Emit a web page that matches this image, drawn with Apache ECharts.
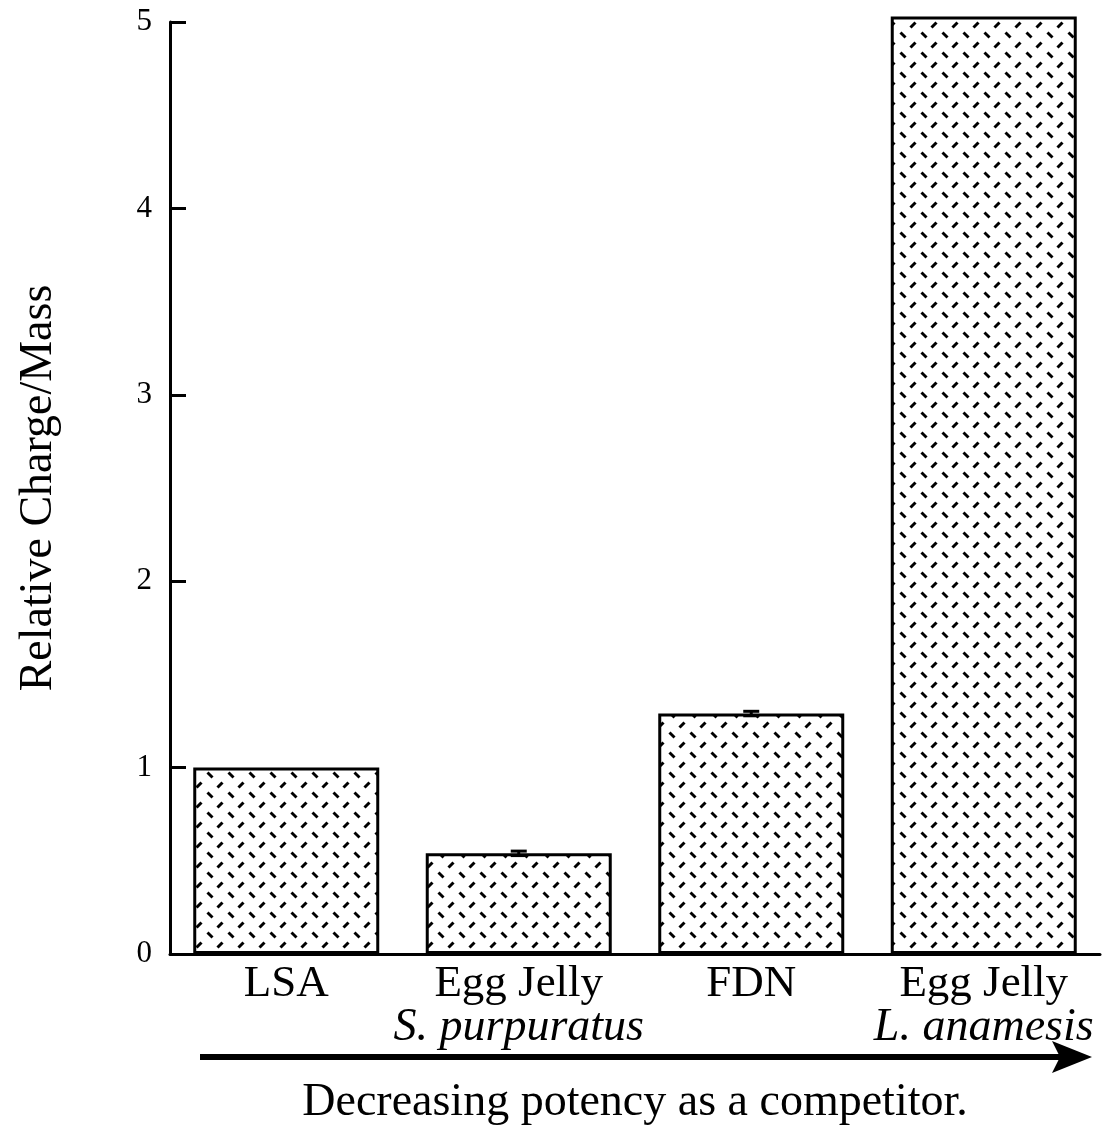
<!DOCTYPE html>
<html>
<head>
<meta charset="utf-8">
<script src="https://cdn.jsdelivr.net/npm/echarts@6/dist/echarts.min.js"></script>
<style>
  html, body { margin: 0; padding: 0; background: #fff; }
  #chart { width: 1104px; height: 1125px; }
</style>
</head>
<body>
<div id="chart"></div>
<script>
// Bar categories: substance name and (optional) species on a second line
const categories = ['LSA', 'Egg Jelly', 'FDN', 'Egg Jelly'];
const species = ['', 'S. purpuratus', '', 'L. anamesis'];
// Relative charge/mass of each substance
const values = [1.0, 0.54, 1.29, 5.03];
// Error (± value) where one was measured
const errors = [null, 0.012, 0.012, null];
// Y tick range
const yTicks = [0, 1, 2, 3, 4, 5];

const FONT = "'Liberation Serif', 'Times New Roman', serif";

// Hatch fill: alternating rows of short "/" and "\" dashes
function makeHatch() {
  const c = document.createElement('canvas');
  c.width = 21; c.height = 20;
  const g = c.getContext('2d');
  g.fillStyle = '#fff';
  g.fillRect(0, 0, 21, 20);
  g.strokeStyle = '#000';
  g.lineWidth = 3;
  g.lineCap = 'butt';
  g.beginPath();
  g.moveTo(7.5, 7.5); g.lineTo(12.5, 2.5);   // "/" dash
  g.stroke();
  g.beginPath();
  g.moveTo(-2.5, 12.5); g.lineTo(2.5, 17.5); // "\" dash, wrapping across the tile edge
  g.moveTo(18.5, 12.5); g.lineTo(23.5, 17.5);
  g.stroke();
  return c;
}

const chart = echarts.init(document.getElementById('chart'), null, { renderer: 'canvas' });

const labelData = categories.map((c, i) => species[i] ? c + '\n{sp|' + species[i] + '}' : c);

const option = {
  backgroundColor: '#fff',
  animation: false,
  grid: { left: 170, right: 4, top: 22, bottom: 171, containLabel: false, outerBoundsMode: 'none' },
  xAxis: {
    type: 'category',
    data: labelData,
    boundaryGap: true,
    name: 'Decreasing potency as a competitor.',
    nameLocation: 'middle',
    nameGap: 126,
    nameTextStyle: { fontFamily: FONT, fontSize: 46, color: '#000' },
    axisLine: { lineStyle: { color: '#000', width: 3 } },
    axisTick: { inside: true, length: 14, lineStyle: { color: '#000', width: 3 } },
    axisLabel: {
      interval: 0,
      margin: 8,
      fontFamily: FONT,
      fontSize: 45,
      lineHeight: 44,
      color: '#000',
      rich: {
        sp: { fontFamily: FONT, fontSize: 46, fontStyle: 'italic', lineHeight: 44, color: '#000' }
      }
    }
  },
  yAxis: {
    type: 'value',
    min: yTicks[0],
    max: yTicks[yTicks.length - 1],
    interval: 1,
    name: 'Relative Charge/Mass',
    nameLocation: 'middle',
    nameGap: 108,
    nameTextStyle: { fontFamily: FONT, fontSize: 46, color: '#000' },
    axisLine: { show: true, lineStyle: { color: '#000', width: 3 } },
    axisTick: { show: true, inside: true, length: 16, lineStyle: { color: '#000', width: 3 } },
    splitLine: { show: false },
    axisLabel: { fontFamily: FONT, fontSize: 31, color: '#000', margin: 18 }
  },
  series: [
    {
      type: 'bar',
      data: values,
      barWidth: '80%',
      clip: false,
      itemStyle: {
        color: { image: makeHatch(), repeat: 'repeat' },
        borderColor: '#000',
        borderWidth: 3
      },
      z: 2
    },
    {
      type: 'custom',
      data: values.map((v, i) => [i, v, errors[i]]).filter(d => d[2] != null),
      z: 5,
      renderItem: function (params, api) {
        const i = api.value(0), v = api.value(1), e = api.value(2);
        const hi = api.coord([i, v + e]);
        const lo = api.coord([i, v - e]);
        const hw = 8;
        const style = { stroke: '#000', lineWidth: 3 };
        return {
          type: 'group',
          children: [
            { type: 'line', shape: { x1: hi[0], y1: hi[1], x2: lo[0], y2: lo[1] }, style },
            { type: 'line', shape: { x1: hi[0] - hw, y1: hi[1], x2: hi[0] + hw, y2: hi[1] }, style },
            { type: 'line', shape: { x1: lo[0] - hw, y1: lo[1], x2: lo[0] + hw, y2: lo[1] }, style }
          ]
        };
      }
    }
  ],
  graphic: [
    // Arrow underneath the category labels
    {
      type: 'line',
      shape: { x1: 200, y1: 1057, x2: 1060, y2: 1057 },
      style: { stroke: '#000', lineWidth: 6 }
    },
    {
      type: 'polygon',
      shape: { points: [[1092, 1057], [1052, 1041], [1060, 1057], [1052, 1073]] },
      style: { fill: '#000' }
    }
  ]
};

chart.setOption(option);
</script>
</body>
</html>
